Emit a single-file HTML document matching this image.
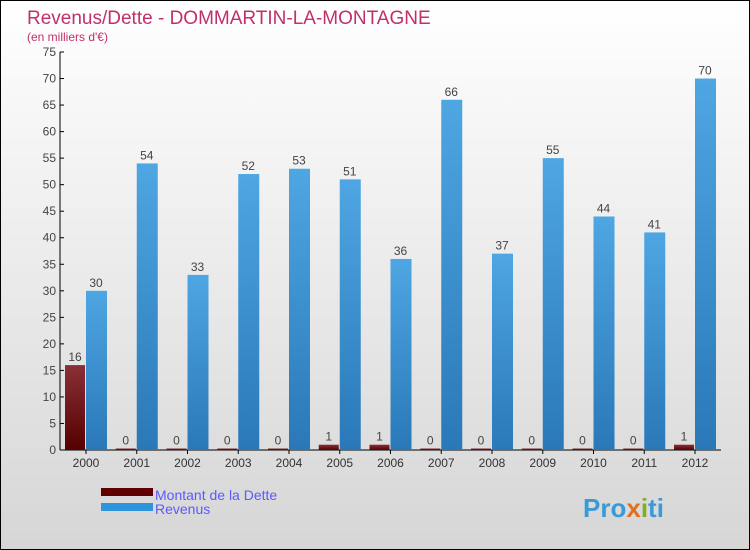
<!DOCTYPE html>
<html><head><meta charset="utf-8"><style>
body{margin:0}
#wrap{width:748px;height:548px;border:1px solid #000;background:linear-gradient(#fff,#d6d6d6);position:relative;overflow:hidden;font-family:"Liberation Sans",sans-serif}
</style></head><body>
<div id="wrap">
<svg id="svg" width="748" height="548" xmlns="http://www.w3.org/2000/svg">
<defs>
<linearGradient id="gb" x1="0" y1="0" x2="0" y2="1"><stop offset="0" stop-color="#4ea6e2"/><stop offset="1" stop-color="#2a78b8"/></linearGradient>
<linearGradient id="gr" x1="0" y1="0" x2="0" y2="1"><stop offset="0" stop-color="#8a3036"/><stop offset="1" stop-color="#560000"/></linearGradient>
</defs>
<text x="26" y="23" font-size="19" fill="#c0306a">Revenus/Dette - DOMMARTIN-LA-MONTAGNE</text>
<text x="26" y="40" font-size="12" fill="#c0306a">(en milliers d'€)</text>
<g id="plot"></g>
<rect x="100" y="487" width="52" height="8" fill="#600000"/>
<rect x="100" y="502" width="52" height="8" fill="#2e95dc"/>
<text x="154" y="499" font-size="14" fill="#5a5aff">Montant de la Dette</text>
<text x="154" y="513" font-size="14" fill="#5a5aff">Revenus</text>
<text x="582" y="516" font-size="26" font-weight="bold" fill="#3a9ad8">Pro<tspan fill="#e07020">x</tspan><tspan fill="#80b020">i</tspan>ti</text>
</svg>
</div>
<script>
const years=["2000","2001","2002","2003","2004","2005","2006","2007","2008","2009","2010","2011","2012"];
const dette=[16,0,0,0,0,1,1,0,0,0,0,0,1];
const revenus=[30,54,33,52,53,51,36,66,37,55,44,41,70];
const yTicks=[0,5,10,15,20,25,30,35,40,45,50,55,60,65,70,75];
const NS="http://www.w3.org/2000/svg";
const g=document.getElementById('plot');
const y=v=>449-v*(398/75);
const xc=i=>85+i*50.75;
function mk(t,a){const e=document.createElementNS(NS,t);for(const k in a)e.setAttribute(k,a[k]);g.appendChild(e);return e;}
let ax=mk('line',{x1:59,y1:y(75),x2:59,y2:449,stroke:'#000'});


let bx=mk('line',{x1:59,y1:449,x2:720,y2:449,stroke:'#000'});


yTicks.forEach(v=>{
 mk('line',{x1:59,y1:y(v),x2:63,y2:y(v),stroke:'#000'});
 const t=mk('text',{x:55,y:y(v)+4,'font-size':12,fill:'#444','text-anchor':'end'});
 t.textContent=v;
 
 
});
years.forEach((yr,i)=>{
 const c=xc(i);
 mk('line',{x1:c,y1:449,x2:c,y2:453,stroke:'#000'});
 const t=mk('text',{x:c,y:466,'font-size':12,fill:'#333','text-anchor':'middle'});
 t.textContent=yr;
 
 
 const hd=Math.max(449-y(dette[i]),1.5);
 const b1=mk('rect',{x:c-21,y:449-hd,width:20,height:hd,fill:'url(#gr)'});
 
 
 const l1=mk('text',{x:c-11,y:449-hd-4,'font-size':12,fill:'#444','text-anchor':'middle'});
 l1.textContent=dette[i];
 
 
 const b2=mk('rect',{x:c,y:y(revenus[i]),width:21,height:449-y(revenus[i]),fill:'url(#gb)'});
 
 
 const l2=mk('text',{x:c+10,y:y(revenus[i])-4,'font-size':12,fill:'#444','text-anchor':'middle'});
 l2.textContent=revenus[i];
 
 
});
</script>
</body></html>
